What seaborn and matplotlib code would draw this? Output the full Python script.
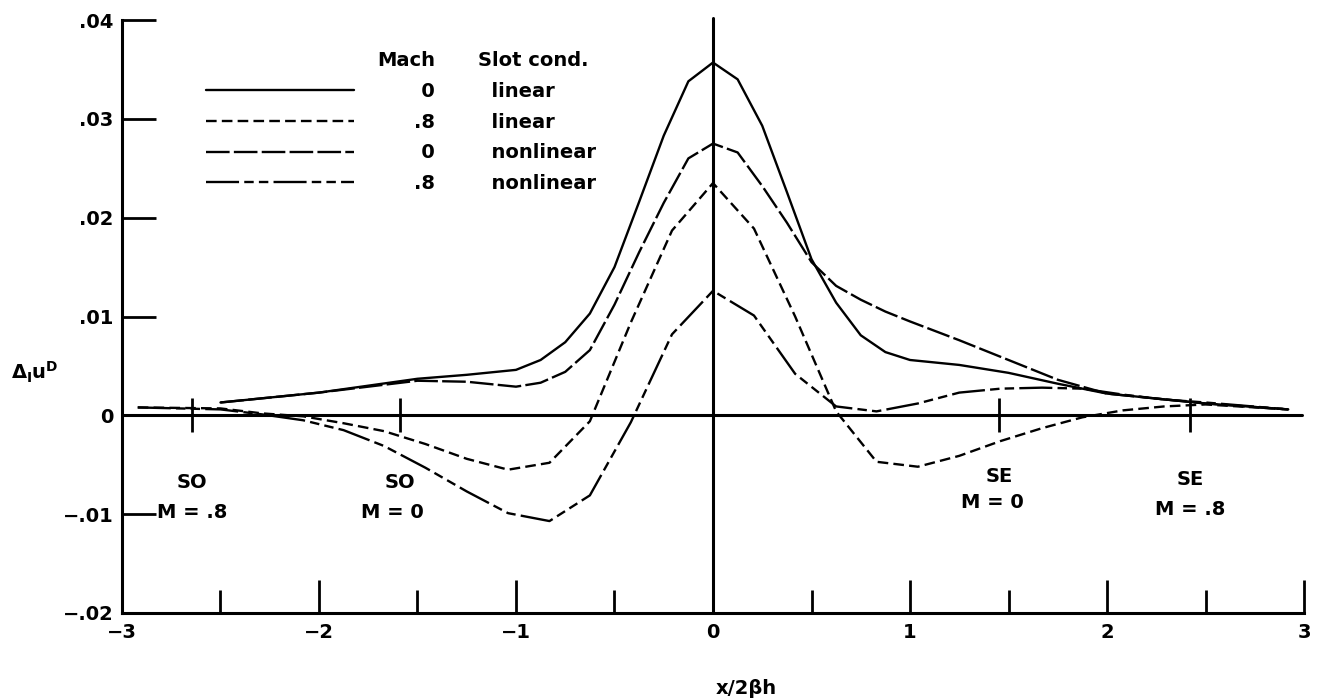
import pandas as pd
import seaborn as sns
import matplotlib.pyplot as plt
from matplotlib.lines import Line2D

# Mach 0 curves (x / 2 beta h)
x_mach0 = [-2.5, -2.0, -1.5, -1.25, -1.0, -0.875, -0.75, -0.625, -0.5, -0.375, -0.25, -0.125, 0.0,
           0.125, 0.25, 0.375, 0.5, 0.625, 0.75, 0.875, 1.0, 1.25, 1.5, 1.75, 2.0, 2.5, 2.92]
u_mach0_linear = [0.0013, 0.0023, 0.0037, 0.0041, 0.0046, 0.0056, 0.0074, 0.0103, 0.0150, 0.0216, 0.0283,
                  0.0338, 0.0357, 0.0340, 0.0293, 0.0226, 0.0158, 0.0114, 0.0081, 0.0064, 0.0056, 0.0051,
                  0.0043, 0.0032, 0.0022, 0.0012, 0.0006]
u_mach0_nonlinear = [0.0013, 0.0023, 0.0035, 0.0034, 0.0029, 0.0033, 0.0044, 0.0066, 0.0112, 0.0165, 0.0215,
                     0.0260, 0.0275, 0.0266, 0.0232, 0.0195, 0.0155, 0.0131, 0.0117, 0.0105, 0.0095, 0.0076,
                     0.0056, 0.0036, 0.0022, 0.0012, 0.0006]

# Mach .8 curves
x_mach08 = [-2.92, -2.5, -2.29, -2.08, -1.875, -1.67, -1.46, -1.25, -1.04, -0.83, -0.625, -0.417, -0.208, 0.0,
            0.208, 0.417, 0.625, 0.83, 1.04, 1.25, 1.46, 1.67, 1.875, 2.08, 2.29, 2.5, 2.92]
u_mach08_linear = [0.0008, 0.0007, 0.0002, -0.0001, -0.0008, -0.0016, -0.0029, -0.0044, -0.0055, -0.0048,
                   -0.0006, 0.0094, 0.0187, 0.0235, 0.0189, 0.0100, 0.0004, -0.0047, -0.0052, -0.0041,
                   -0.0026, -0.0013, -0.0002, 0.0005, 0.0009, 0.0011, 0.0006]
u_mach08_nonlinear = [0.0008, 0.0006, 0.0001, -0.0005, -0.0015, -0.0031, -0.0053, -0.0077, -0.0099, -0.0107,
                      -0.0081, -0.0007, 0.0082, 0.0126, 0.0101, 0.0042, 0.0009, 0.0004, 0.0012, 0.0023,
                      0.0027, 0.0028, 0.0027, 0.0021, 0.0016, 0.0013, 0.0006]

series_names = ["0 linear", ".8 linear", "0 nonlinear", ".8 nonlinear"]
mach_labels = ["0", ".8", "0", ".8"]
slot_labels = ["linear", "linear", "nonlinear", "nonlinear"]

# slot positions marked on the zero line
slot_x = [-2.645, -1.589, 1.452, 2.421]
slot_names = ["SO", "SO", "SE", "SE"]
slot_mach = ["M = .8", "M = 0", "M = 0", "M = .8"]

xtick_labels = ["\u22123", "\u22122", "\u22121", "0", "1", "2", "3"]
ytick_vals = [-0.02, -0.01, 0.0, 0.01, 0.02, 0.03, 0.04]
ytick_labels = ["\u2212.02", "\u2212.01", "0", ".01", ".02", ".03", ".04"]

df = pd.concat([
    pd.DataFrame({"x": x_mach0, "u": u_mach0_linear, "series": series_names[0]}),
    pd.DataFrame({"x": x_mach08, "u": u_mach08_linear, "series": series_names[1]}),
    pd.DataFrame({"x": x_mach0, "u": u_mach0_nonlinear, "series": series_names[2]}),
    pd.DataFrame({"x": x_mach08, "u": u_mach08_nonlinear, "series": series_names[3]}),
])

sns.set_style("ticks")
plt.rcParams["font.family"] = ["DejaVu Sans"]
plt.rcParams["font.weight"] = "bold"
for key in ["text.color", "axes.labelcolor", "xtick.color", "ytick.color", "axes.edgecolor"]:
    plt.rcParams[key] = "black"

dash_map = {
    "0 linear": "",
    ".8 linear": (4.5, 2.2),
    "0 nonlinear": (10, 1.8),
    ".8 nonlinear": (14, 2.2, 4, 2.2, 4, 2.2),
}
LW = 1.7

fig = plt.figure(figsize=(13.2, 6.98), dpi=100)
ax = fig.add_axes([0.0924, 0.1218, 0.8955, 0.8495])

sns.lineplot(data=df, x="x", y="u", style="series", style_order=series_names, dashes=dash_map,
             color="black", lw=LW, legend=False, estimator=None, sort=False, ax=ax)

ax.axhline(0, color="black", lw=2.2, xmax=0.998)
ax.axvline(0, color="black", lw=2.2, ymax=1.004, clip_on=False)
ax.plot(slot_x, [0] * len(slot_x), ls="none", marker="|", ms=24, mew=2, color="black")

# slot annotations
name_y = [-0.0068, -0.0068, -0.0062, -0.0065]
mach_y = [-0.0098, -0.0098, -0.0088, -0.0095]
mach_dx = [0.0, -0.04, -0.035, 0.0]
for xs, nm, mm, ny, my, dx in zip(slot_x, slot_names, slot_mach, name_y, mach_y, mach_dx):
    ax.text(xs, ny, nm, ha="center", va="center", fontsize=14)
    ax.text(xs + dx, my, mm, ha="center", va="center", fontsize=14)

ax.set_xlim(-3, 3)
ax.set_ylim(-0.02, 0.04)
ax.set_xticks(range(-3, 4))
ax.set_xticklabels(xtick_labels)
ax.set_xticks([-2.5, -1.5, -0.5, 0.5, 1.5, 2.5], minor=True)
ax.set_yticks(ytick_vals)
ax.set_yticklabels(ytick_labels)
ax.tick_params(axis="x", which="major", direction="in", length=24, width=2, labelsize=14, pad=7)
ax.tick_params(axis="x", which="minor", direction="in", length=16.5, width=2)
ax.tick_params(axis="y", direction="in", length=24.5, width=2, labelsize=14, pad=6)
sns.despine(ax=ax)
for s in ["left", "bottom"]:
    ax.spines[s].set_linewidth(2.2)
ax.set_xlabel("")
ax.set_ylabel("")

# legend: line samples + Mach column, then Slot cond. column
handles = []
for name in series_names:
    d = dash_map[name]
    if d == "":
        handles.append(Line2D([], [], color="black", lw=LW))
    else:
        handles.append(Line2D([], [], color="black", lw=LW, dashes=d))
leg1 = ax.legend(handles, ["\u2008" + m if m == "0" else m for m in mach_labels], title="Mach",
                 loc="upper right", bbox_to_anchor=(0.265, 0.947), frameon=False, fontsize=14,
                 title_fontsize=14, handlelength=7.6, handletextpad=3.1, labelspacing=0.6,
                 borderpad=0, borderaxespad=0, alignment="right")
ax.add_artist(leg1)
blank = [Line2D([], [], alpha=0) for _ in slot_labels]
ax.legend(blank, ["  " + s for s in slot_labels], title="Slot cond.",
          loc="upper left", bbox_to_anchor=(0.301, 0.947), frameon=False, fontsize=14,
          title_fontsize=14, handlelength=0, handletextpad=0, labelspacing=0.6,
          borderpad=0, borderaxespad=0, alignment="left")

fig.text(0.008, 0.467, r"$\Delta_{\mathbf{I}}\mathbf{u}^{\mathbf{D}}$", fontsize=14, ha="left", va="center")
fig.text(0.565, 0.014, "x/2\u03b2h", fontsize=14, ha="center", va="center")

fig.savefig("out.png", dpi=100)
